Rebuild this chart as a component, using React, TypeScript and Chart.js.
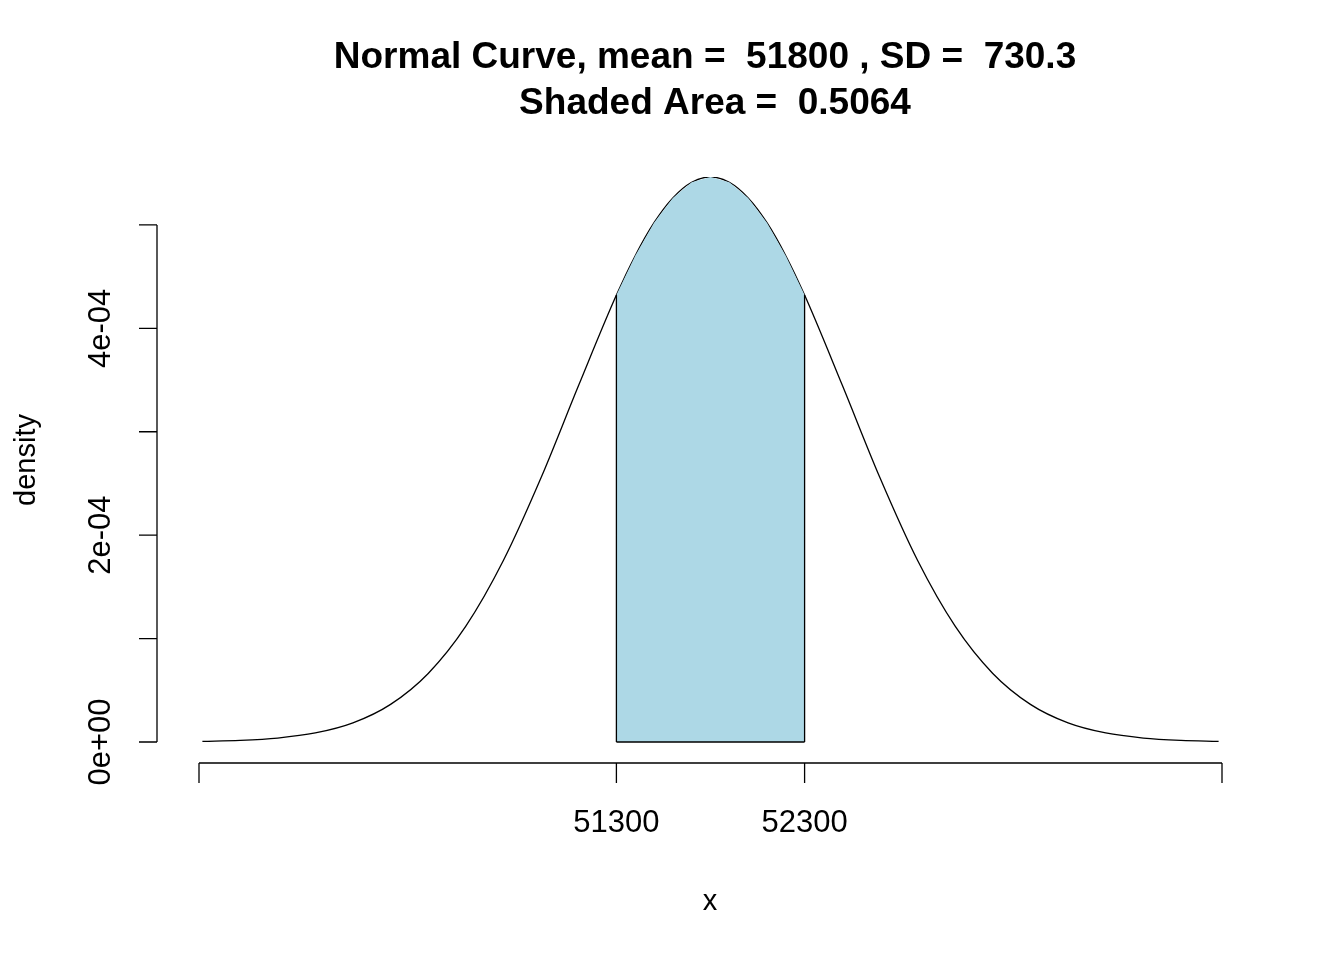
import React, { useEffect, useRef } from "react";
import { Chart, registerables } from "chart.js";
Chart.register(...registerables);

const curveX = [49100,49300,49500,49700,49900,50100,50300,50500,50700,50900,51100,51300,51400,51500,51600,51700,51800,51900,52000,52100,52200,52300,52500,52700,52900,53100,53300,53500,53700,53900,54100,54300,54500];
const curveY = [5.88e-7,1.56e-6,3.83e-6,8.74e-6,1.851e-5,3.64e-5,6.63e-5,1.12e-4,1.757e-4,2.557e-4,3.451e-4,4.321e-4,4.702e-4,5.021e-4,5.261e-4,5.412e-4,5.463e-4,5.412e-4,5.261e-4,5.021e-4,4.702e-4,4.321e-4,3.451e-4,2.557e-4,1.757e-4,1.12e-4,6.63e-5,3.64e-5,1.851e-5,8.74e-6,3.83e-6,1.56e-6,5.88e-7];
const shadeX = [51300,51300,51400,51500,51600,51700,51800,51900,52000,52100,52200,52300,52300];
const shadeY = [0,4.321e-4,4.702e-4,5.021e-4,5.261e-4,5.412e-4,5.463e-4,5.412e-4,5.261e-4,5.021e-4,4.702e-4,4.321e-4,0];
const xTicks = [49082,51300,52300,54518];
const xTickLabels = ["", "51300", "52300", ""];
const yTicks = [0,1e-4,2e-4,3e-4,4e-4,5e-4];
const yTickLabels = ["0e+00","","2e-04","","4e-04",""];
const titleLines = ["Normal Curve, mean =  51800 , SD =  730.3", "Shaded Area =  0.5064"];

const axesPlugin = {
  id: "rAxes",
  afterDraw(chart: any) {
    const ctx = chart.ctx;
    const xs = chart.scales.x, ys = chart.scales.y;
    ctx.save();
    ctx.strokeStyle = "#000"; ctx.fillStyle = "#000"; ctx.lineWidth = 1.3;
    // shading verticals
    ctx.beginPath();
    [0, shadeX.length - 1].forEach((i) => {
      const px = xs.getPixelForValue(shadeX[i]);
      ctx.moveTo(px, ys.getPixelForValue(0));
      ctx.lineTo(px, ys.getPixelForValue(i === 0 ? shadeY[1] : shadeY[shadeY.length - 2]));
    });
    ctx.moveTo(xs.getPixelForValue(shadeX[0]), ys.getPixelForValue(0));
    ctx.lineTo(xs.getPixelForValue(shadeX[shadeX.length - 1]), ys.getPixelForValue(0));
    const ax = 157;
    ctx.moveTo(ax, ys.getPixelForValue(yTicks[0]));
    ctx.lineTo(ax, ys.getPixelForValue(yTicks[yTicks.length - 1]));
    yTicks.forEach((v) => { const p = ys.getPixelForValue(v); ctx.moveTo(ax, p); ctx.lineTo(ax - 18, p); });
    ctx.stroke();
    ctx.font = "31px 'Liberation Sans', Arial, sans-serif";
    ctx.textAlign = "center"; ctx.textBaseline = "middle";
    yTicks.forEach((v, i) => {
      if (!yTickLabels[i]) return;
      const p = ys.getPixelForValue(v);
      ctx.save(); ctx.translate(101, p); ctx.rotate(-Math.PI / 2); ctx.fillText(yTickLabels[i], 0, 0); ctx.restore();
    });
    const ay = 763;
    ctx.beginPath();
    ctx.moveTo(xs.getPixelForValue(xTicks[0]), ay);
    ctx.lineTo(xs.getPixelForValue(xTicks[xTicks.length - 1]), ay);
    xTicks.forEach((v) => { const p = xs.getPixelForValue(v); ctx.moveTo(p, ay); ctx.lineTo(p, ay + 20); });
    ctx.stroke();
    xTicks.forEach((v, i) => { if (xTickLabels[i]) ctx.fillText(xTickLabels[i], xs.getPixelForValue(v), 823); });
    ctx.font = "29px 'Liberation Sans', Arial, sans-serif";
    ctx.fillText("x", 710, 902);
    ctx.save(); ctx.translate(27, 460); ctx.rotate(-Math.PI / 2); ctx.fillText("density", 0, 0); ctx.restore();
    ctx.font = "bold 37px 'Liberation Sans', Arial, sans-serif";
    ctx.fillText(titleLines[0], 705, 58);
    ctx.fillText(titleLines[1], 715, 104);
    ctx.restore();
  },
};

export default function App() {
  const ref = useRef<HTMLCanvasElement>(null);
  useEffect(() => {
    document.body.style.margin = "0";
    const chart = new Chart(ref.current!, {
      type: "scatter",
      data: {
        datasets: [
          {
            data: shadeX.map((x, i) => ({ x, y: shadeY[i] })),
            showLine: true, fill: "origin", backgroundColor: "#add8e6",
            borderColor: "rgba(0,0,0,0)", borderWidth: 0, pointRadius: 0, tension: 0,
          },
          {
            data: curveX.map((x, i) => ({ x, y: curveY[i] })),
            showLine: true, fill: false, borderColor: "#000", borderWidth: 1.3,
            pointRadius: 0, cubicInterpolationMode: "monotone",
          },
        ],
      },
      options: {
        animation: false, responsive: false,
        layout: { padding: { left: 199, right: 122, top: 177, bottom: 218 } },
        plugins: { legend: { display: false }, tooltip: { enabled: false } },
        scales: {
          x: { type: "linear", min: 49082, max: 54518, display: false },
          y: { min: 0, max: 5.463e-4, display: false },
        },
      },
      plugins: [axesPlugin],
    } as any);
    return () => chart.destroy();
  }, []);
  return (
    <div style={{ position: "absolute", left: 0, top: 0, width: 1344, height: 960, background: "#fff" }}>
      <canvas ref={ref} width={1344} height={960} style={{ width: 1344, height: 960 }} />
    </div>
  );
}
